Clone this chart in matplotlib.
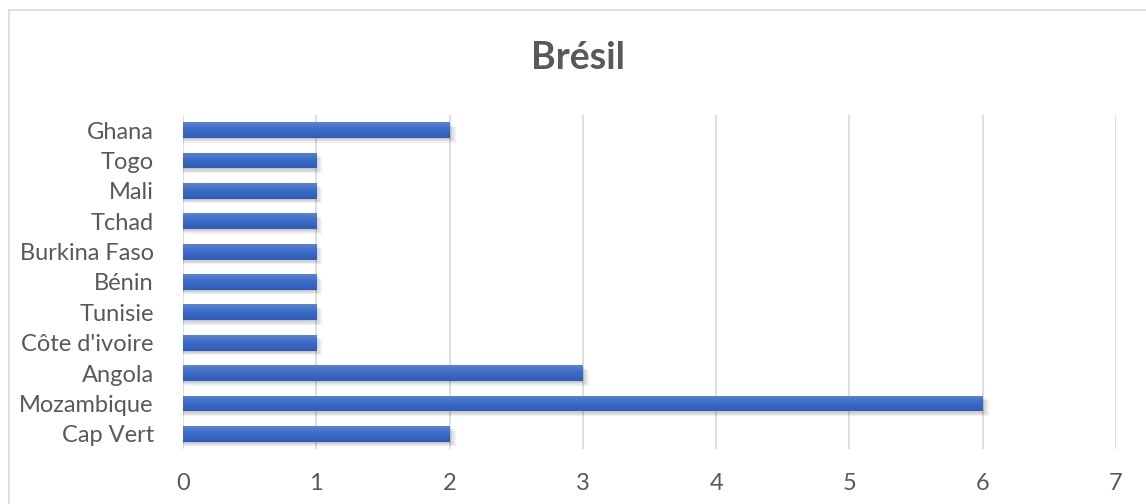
import matplotlib.pyplot as plt
import numpy as np
from matplotlib.lines import Line2D
from matplotlib.colors import LinearSegmentedColormap

countries = ["Cap Vert", "Mozambique", "Angola", "Côte d'ivoire", "Tunisie",
             "Bénin", "Burkina Faso", "Tchad", "Mali", "Togo", "Ghana"]
values = [2, 6, 3, 1, 1, 1, 1, 1, 1, 1, 2]
x_ticks = [0, 1, 2, 3, 4, 5, 6, 7]

TEXT = "#595959"
plt.rcParams["font.family"] = ["Lato", "DejaVu Sans"]

fig = plt.figure(figsize=(11.46, 5.04), dpi=100)
ax = fig.add_axes([0.1597, 0.109, 0.9738 - 0.1597, 0.772 - 0.109])

y = np.arange(len(countries))
vals = np.array(values, dtype=float)
bar_h = 0.52

# ombre portée floue (plusieurs couches)
for dy, dx in [(0.03, 0.0), (0.07, 0.015), (0.11, 0.03), (0.15, 0.045)]:
    ax.barh(y - dy, vals + dx, height=bar_h, color="#000000",
            alpha=0.06, zorder=2, linewidth=0)

bars = ax.barh(y, vals, height=bar_h, color="#4472c4", zorder=3, linewidth=0)

# dégradé vertical dans chaque barre
grad = np.linspace(0, 1, 64).reshape(-1, 1)
cmap = LinearSegmentedColormap.from_list("g", ["#2e5cb8", "#3b69c6", "#5a83d2"])
for b in bars:
    x0, y0 = b.get_x(), b.get_y()
    w, h = b.get_width(), b.get_height()
    im = ax.imshow(grad, cmap=cmap, aspect="auto", origin="lower",
                   extent=[x0, x0 + w, y0, y0 + h], zorder=4)
    im.set_clip_path(b)

ax.set_xlim(0, 7)
ax.set_ylim(-0.5, len(countries) - 0.5)
ax.set_xticks(x_ticks)
ax.set_yticks(y)
ax.set_yticklabels(countries)
ax.grid(axis="x", color="#d9d9d9", linewidth=1.2, zorder=0)
for s in ax.spines.values():
    s.set_visible(False)
ax.tick_params(axis="both", length=0, labelsize=17, colors=TEXT)
ax.tick_params(axis="x", pad=17)
ax.tick_params(axis="y", pad=21)

fig.text(0.5045, 0.885, "Brésil", ha="center", va="center", fontsize=27,
         fontweight="bold", color=TEXT)

# cadre du graphique
fig.add_artist(Line2D([8.5 / 1146, 1], [1 - 9.5 / 504] * 2,
                      color="#d9d9d9", linewidth=1.2))
fig.add_artist(Line2D([8.5 / 1146] * 2, [0, 1 - 9.5 / 504],
                      color="#d9d9d9", linewidth=1.2))

fig.savefig("out.png", dpi=100)
